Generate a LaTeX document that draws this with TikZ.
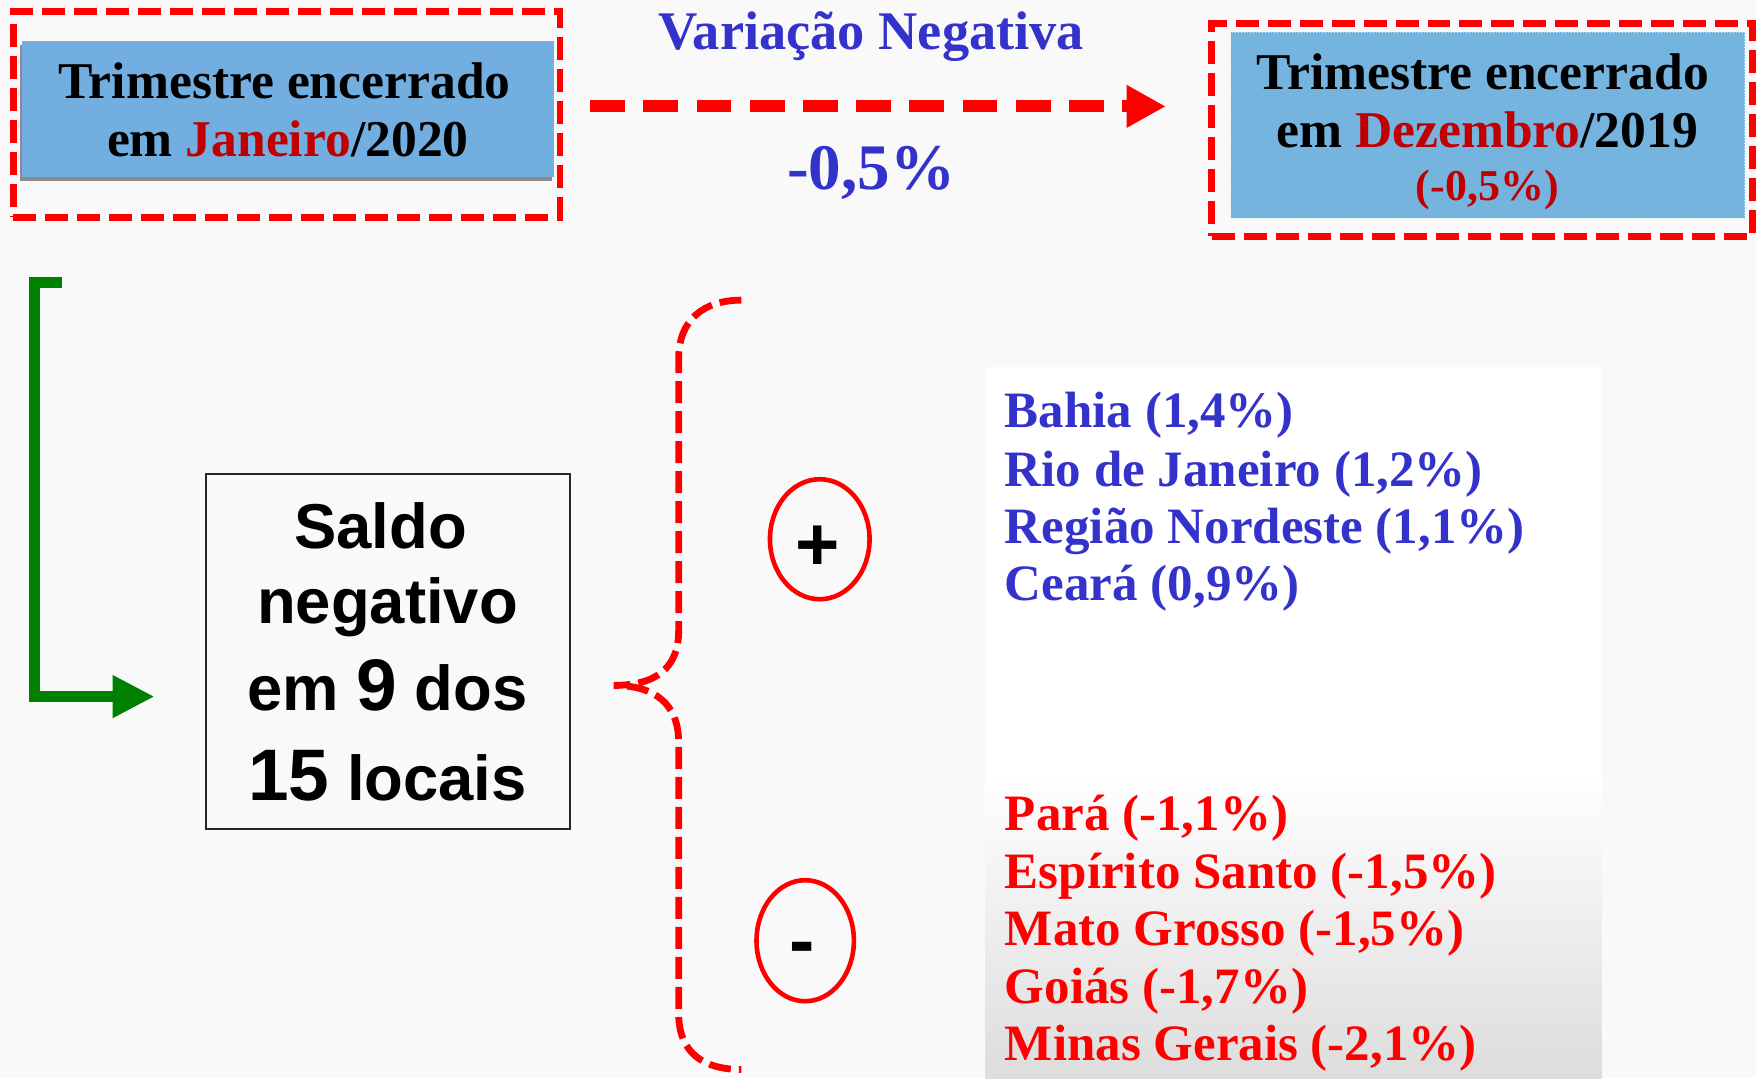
\documentclass[tikz,border=0pt]{standalone}
\usepackage{fontspec}
\setmainfont{Liberation Serif}
\newfontfamily\arialf{Liberation Sans}
\usetikzlibrary{arrows.meta,shapes.geometric}
\definecolor{bgc}{HTML}{F9F9F9}
\definecolor{boxblue}{HTML}{72AFE0}
\definecolor{boxblueR}{HTML}{76B4E0}
\definecolor{txtblue}{HTML}{3333CC}
\definecolor{darkred}{HTML}{C00000}
\definecolor{grn}{HTML}{008000}
\newcommand{\setfs}[1]{\fontsize{#1}{#1}\selectfont}
\tikzset{
  outerbox/.style={rectangle, draw=red, line width=3.4pt, dash pattern=on 11.5pt off 4.5pt, inner sep=0pt},
  bluebox/.style={rectangle, fill=#1, inner sep=0pt},
  shadowbox/.style={rectangle, fill=black!45, inner sep=0pt},
  boxtxt/.style={anchor=base, inner sep=0pt, font=\bfseries\setfs{25.8}},
  toptxt/.style={anchor=base, inner sep=0pt, text=txtblue, font=\bfseries\setfs{#1}},
  bigarrow/.style={draw=red, line width=6pt, dash pattern=on 17.4pt off 9.2pt, -{Triangle[length=19.6pt,width=20pt]}},
  greenarrow/.style={draw=grn, line width=5.6pt, -{Triangle[length=21pt,width=20pt]}},
  saldobox/.style={rectangle, draw=black!85, line width=0.8pt, inner sep=0pt},
  saldotxt/.style={anchor=base, inner sep=0pt, font=\arialf\bfseries\setfs{31.7}},
  bracepath/.style={draw=red, line width=3.4pt, dash pattern=on 11pt off 4pt},
  signell/.style={ellipse, draw=red, line width=2.3pt, inner sep=0pt},
  signtxt/.style={anchor=base, inner sep=0pt, font=\arialf\bfseries\setfs{38}},
  listtxt/.style={anchor=base west, inner sep=0pt, text=#1, font=\bfseries\setfs{25.5}},
}
\newcommand{\bigdig}[1]{{\setfs{36.5}#1}}
\begin{document}
\begin{tikzpicture}[x=0.56pt, y=-0.56pt]
\useasboundingbox (0,0) rectangle (1568,963);
\fill[bgc] (0,0) rectangle (1568,963);

% right panel
\fill[white] (880,328) rectangle (1430,690);
\shade[top color=white, bottom color=gray!27] (880,690) rectangle (1430,963);

% left top box
\node[shadowbox, minimum width=266pt, minimum height=67.8pt] (lshadow) at (255,101) {};
\node[bluebox=boxblue, minimum width=266pt, minimum height=67.8pt] (lblue) at (257.5,97.5) {};
\node[outerbox, minimum width=273.3pt, minimum height=103pt] (louter) at (256,102) {};
\node[boxtxt] (l1) at (254,88) {Trimestre encerrado};
\node[boxtxt] (l2) at (257,140) {em \textcolor{darkred}{Janeiro}/2020};

% right top box
\node[bluebox=boxblueR, minimum width=257pt, minimum height=93pt, draw=white!70!boxblueR, densely dotted, line width=0.5pt] (rblue) at (1328.5,112) {};
\node[outerbox, minimum width=270.5pt, minimum height=106.4pt] (router) at (1323.5,116) {};
\node[boxtxt] (r1) at (1324,80) {Trimestre encerrado};
\node[boxtxt] (r2) at (1328,131.5) {em \textcolor{darkred}{Dezembro}/2019};
\node[boxtxt, text=darkred, font=\bfseries\setfs{22}] (r3) at (1328,178.6) {(-0,5\%)};

% top arrow and labels
\node[toptxt=27.2] (var) at (778,44.6) {Variação Negativa};
\node[toptxt=32.5] (pct) at (778,169.6) {-0,5\%};
\coordinate (arrS) at (527,95);
\coordinate (arrE) at (1041,95);
\draw[bigarrow] (arrS) -- (arrE);

% green elbow
\coordinate (gS) at (55,252);
\coordinate (gE) at (138,622);
\draw[greenarrow] (gS) -- ++(-24,0) |- (gE);

% saldo box
\node[saldobox, minimum width=182pt, minimum height=177.5pt] (saldo) at (346.5,581.5) {};
\node[saldotxt] (s1) at (340,489.5) {Saldo};
\node[saldotxt] (s2) at (346,557) {negativo};
\node[saldotxt] (s3) at (346,634.6) {em \bigdig{9} dos};
\node[saldotxt] (s4) at (346,714.4) {\bigdig{15} locais};

% brace
\coordinate (bTop) at (662,268);
\coordinate (bTip) at (548,612);
\coordinate (bBot) at (662,955);
\draw[bracepath] (bTop) .. controls (628,268) and (606,286) .. (606,320) -- (606,563)
  .. controls (606,598) and (584,612) .. (bTip)
  .. controls (584,612) and (606,628) .. (606,663) -- (606,905)
  .. controls (606,940) and (628,955) .. (bBot);

% sign ellipses
\node[signell, minimum width=49.8pt, minimum height=60pt] (plus) at (732,481.5) {};
\node[signtxt] (plustxt) at (730,509) {+};
\node[signell, minimum width=48.7pt, minimum height=60.5pt] (minus) at (719,840) {};
\node[signtxt] (minustxt) at (716,863) {-};

% lists
\node[listtxt=txtblue] (b1) at (897,382) {Bahia (1,4\%)};
\node[listtxt=txtblue] (b2) at (897,434) {Rio de Janeiro (1,2\%)};
\node[listtxt=txtblue] (b3) at (897,485) {Região Nordeste (1,1\%)};
\node[listtxt=txtblue] (b4) at (897,536) {Ceará (0,9\%)};
\node[listtxt=red] (n1) at (897,742) {Pará (-1,1\%)};
\node[listtxt=red] (n2) at (897,793) {Espírito Santo (-1,5\%)};
\node[listtxt=red] (n3) at (897,844.5) {Mato Grosso (-1,5\%)};
\node[listtxt=red] (n4) at (897,896) {Goiás (-1,7\%)};
\node[listtxt=red] (n5) at (897,947) {Minas Gerais (-2,1\%)};
\end{tikzpicture}
\end{document}
